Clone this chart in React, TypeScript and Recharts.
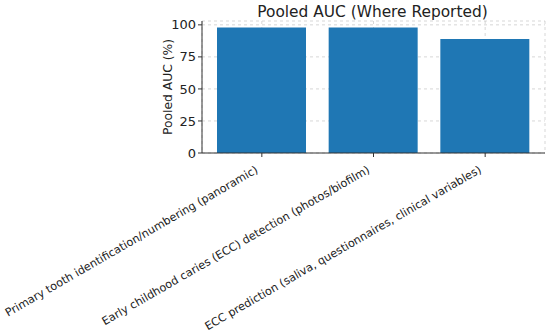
import { Bar, BarChart, CartesianGrid, XAxis, YAxis } from "recharts";

const categories = [
  "Primary tooth identification/numbering (panoramic)",
  "Early childhood caries (ECC) detection (photos/biofilm)",
  "ECC prediction (saliva, questionnaires, clinical variables)",
];
const pooledAuc = [98, 98, 89];
const yTicks = [0, 25, 50, 75, 100];

const data = categories.map((name, i) => ({ name, auc: pooledAuc[i] }));

const font = "DejaVu Sans, sans-serif";

const XTick = (props: any) => {
  const { x, y, payload } = props;
  return (
    <g transform={`translate(${x - 3},${y + 13}) rotate(-30)`}>
      <text
        x={0}
        y={0}
        textAnchor="end"
        fontSize={11.2}
        fontFamily={font}
        fill="#222"
      >
        {payload.value}
      </text>
    </g>
  );
};

const YLabel = (props: any) => {
  const { viewBox } = props;
  const cx = 168;
  const cy = viewBox.y + viewBox.height / 2;
  return (
    <text
      x={cx}
      y={cy}
      textAnchor="middle"
      dominantBaseline="central"
      transform={`rotate(-90, ${cx}, ${cy})`}
      fontSize={12.3}
      fontFamily={font}
      fill="#222"
    >
      Pooled AUC (%)
    </text>
  );
};

const App = () => {
  return (
    <div style={{ position: "absolute", left: 0, top: 0, background: "#fff" }}>
      <BarChart
        width={550}
        height={333}
        data={data}
        margin={{ top: 21, right: 5, left: 140, bottom: 0 }}
      >
        <text
          x={372.5}
          y={17}
          textAnchor="middle"
          fontSize={15.4}
          fontFamily={font}
          fill="#222"
        >
          Pooled AUC (Where Reported)
        </text>
        <XAxis
          dataKey="name"
          height={180}
          interval={0}
          padding={{ left: 4, right: 4 }}
          tick={<XTick />}
          tickSize={4}
          stroke="#333"
        />
        <YAxis
          width={62}
          domain={[0, 103]}
          ticks={yTicks}
          tickSize={4}
          stroke="#333"
          tick={{ fontSize: 13, fontFamily: font, fill: "#222" }}
          label={<YLabel />}
        />
        <Bar dataKey="auc" fill="#1f77b4" barSize={89} isAnimationActive={false} />
        <CartesianGrid
          stroke="#b0b0b0"
          strokeOpacity={0.5}
          strokeDasharray="3 3"
        />
      </BarChart>
    </div>
  );
};

export default App;
